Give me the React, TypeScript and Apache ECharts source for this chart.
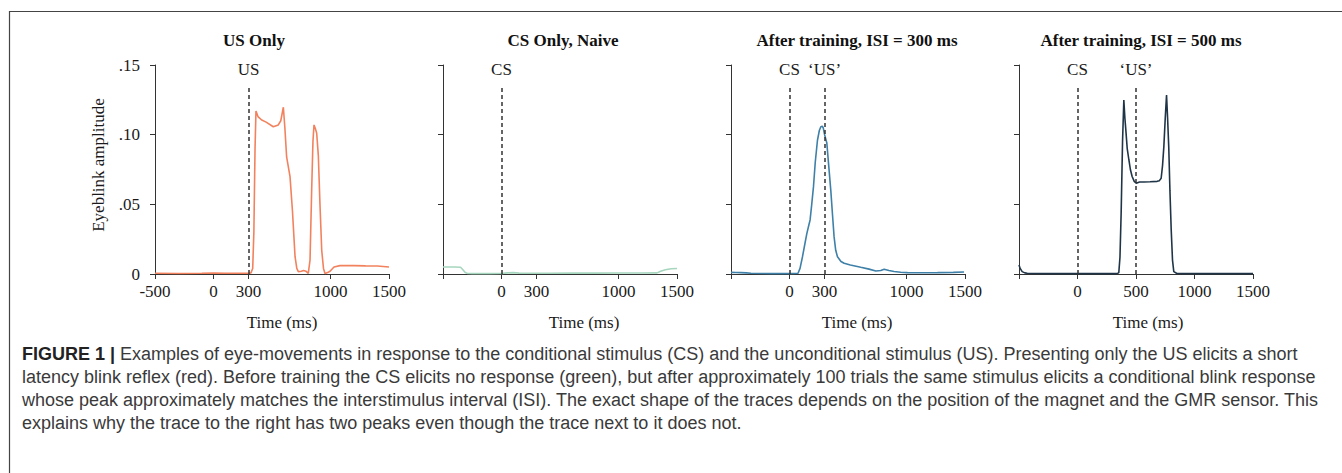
import React, { useEffect, useRef } from 'react';
import * as echarts from 'echarts';

// ---------- DATA ----------
const panelTitles = ['US Only', 'CS Only, Naive', 'After training, ISI = 300 ms', 'After training, ISI = 500 ms'];

const usOnlyTime = [-500, -300, -100, 0, 100, 200, 300, 320, 335, 345, 355, 363, 380, 412, 450, 511, 554, 575, 597, 610, 625, 654, 675, 697, 712, 725, 750, 770, 790, 810, 825, 839, 850, 859, 872, 882, 896, 910, 925, 940, 953, 975, 996, 1030, 1081, 1200, 1300, 1400, 1500];
const usOnlyAmp = [0.0005, 0.0004, 0.0005, 0.0006, 0.0005, 0.0005, 0.0005, 0.0008, 0.004, 0.03, 0.09, 0.117, 0.113, 0.1105, 0.109, 0.1057, 0.107, 0.11, 0.1197, 0.105, 0.084, 0.0699, 0.045, 0.0124, 0.004, 0.0017, 0.002, 0.0025, 0.002, 0.0005, 0.01, 0.06, 0.095, 0.107, 0.104, 0.101, 0.085, 0.05, 0.017, 0.004, 0.0003, 0.001, 0.002, 0.005, 0.006, 0.006, 0.0058, 0.0057, 0.005];

const csNaiveTime = [-500, -400, -350, -330, -310, -290, -250, -100, 0, 50, 100, 150, 200, 400, 600, 800, 1000, 1200, 1330, 1360, 1400, 1450, 1500];
const csNaiveAmp = [0.005, 0.005, 0.0048, 0.003, 0.001, 0.0004, 0.0003, 0.0003, 0.0004, 0.0008, 0.001, 0.0006, 0.0005, 0.0005, 0.0006, 0.0006, 0.0007, 0.0007, 0.0008, 0.002, 0.003, 0.0038, 0.004];

const isi300Time = [-500, -460, -416, -370, -330, -250, -150, -17, 40, 73, 90, 111, 130, 148, 165, 176, 190, 205, 220, 239, 255, 268, 280, 288, 300, 319, 335, 353, 368, 381, 395, 410, 440, 467, 520, 609, 680, 738, 780, 809, 850, 894, 950, 1009, 1100, 1265, 1400, 1492];
const isi300Amp = [0.0012, 0.0011, 0.001, 0.0008, 0.0005, 0.0004, 0.0003, 0.0003, 0.0004, 0.0005, 0.004, 0.0124, 0.021, 0.029, 0.035, 0.0388, 0.05, 0.0627, 0.08, 0.096, 0.103, 0.1057, 0.106, 0.105, 0.1, 0.094, 0.078, 0.06, 0.042, 0.0268, 0.017, 0.0124, 0.009, 0.0077, 0.0065, 0.0048, 0.0035, 0.0022, 0.0025, 0.0034, 0.0025, 0.0018, 0.0013, 0.001, 0.0009, 0.001, 0.0012, 0.0014];

const isi500Time = [-500, -490, -473, -450, -430, -300, 0, 200, 340, 353, 363, 373, 385, 396, 405, 413, 425, 439, 452, 467, 485, 502, 530, 567, 620, 681, 700, 715, 727, 738, 750, 761, 770, 780, 790, 801, 812, 823, 850, 1000, 1200, 1500];
const isi500Amp = [0.0065, 0.004, 0.0017, 0.0008, 0.0005, 0.0003, 0.0003, 0.0003, 0.0003, 0.001, 0.012, 0.0435, 0.095, 0.1249, 0.112, 0.1034, 0.09, 0.082, 0.075, 0.07, 0.0665, 0.0651, 0.066, 0.066, 0.0662, 0.0665, 0.067, 0.0687, 0.078, 0.0914, 0.112, 0.1285, 0.112, 0.091, 0.06, 0.0316, 0.01, 0.0017, 0.0004, 0.0003, 0.0003, 0.0003];

const panelTimes = [usOnlyTime, csNaiveTime, isi300Time, isi500Time];
const panelAmps = [usOnlyAmp, csNaiveAmp, isi300Amp, isi500Amp];
const panelColors = ['#F2825E', '#A6D6BE', '#3F80A8', '#1F3547'];

const yTickValues = [0, 0.05, 0.1, 0.15];
const yTickLabels = ['0', '.05', '.10', '.15'];
const xTickValues = [
  [-500, 0, 300, 1000, 1500],
  [-500, 0, 300, 1000, 1500],
  [-500, 0, 300, 1000, 1500],
  [-500, 0, 500, 1000, 1500],
];
const xLabelValues = [
  [-500, 0, 300, 1000, 1500],
  [0, 300, 1000, 1500],
  [0, 300, 1000, 1500],
  [0, 500, 1000, 1500],
];
const stimulusTimes = [[300], [0], [0, 300], [0, 500]];
const stimulusNames = [['US'], ['CS'], ['CS', '\u2018US\u2019'], ['CS', '\u2018US\u2019']];
const stimulusLineTop = 0.134;

const xAxisName = 'Time (ms)';
const yAxisName = 'Eyeblink amplitude';

const captionBold = 'FIGURE 1 |';
const captionLines = [
  ' Examples of eye-movements in response to the conditional stimulus (CS) and the unconditional stimulus (US). Presenting only the US elicits a short',
  'latency blink reflex (red). Before training the CS elicits no response (green), but after approximately 100 trials the same stimulus elicits a conditional blink response',
  'whose peak approximately matches the interstimulus interval (ISI). The exact shape of the traces depends on the position of the magnet and the GMR sensor. This',
  'explains why the trace to the right has two peaks even though the trace next to it does not.',
];

// ---------- LAYOUT ----------
const gridLefts = [155, 443, 731, 1019];
const gridWidth = 234;
const gridTop = 65;
const gridHeight = 209;
const titleCenters = [254, 563, 857, 1141];
const timeNameCenters = [282, 584, 857, 1148];

const SERIF = '"Liberation Serif", "Times New Roman", serif';
const SANS = '"Liberation Sans", Arial, sans-serif';
const AXIS_COLOR = '#333333';
const TEXT_COLOR = '#1a1a1a';

export default function App() {
  const ref = useRef<HTMLDivElement>(null);

  useEffect(() => {
    document.body.style.margin = '0';
    if (!ref.current) return;
    const chart = echarts.init(ref.current, undefined, { renderer: 'svg' });

    const grids = gridLefts.map((left) => ({ left, top: gridTop, width: gridWidth, height: gridHeight }));

    const xAxes = gridLefts.map((_, i) => ({
      type: 'value',
      gridIndex: i,
      min: -500,
      max: 1500,
      axisLine: { show: true, onZero: false, lineStyle: { color: AXIS_COLOR, width: 1 } },
      axisTick: { show: true, length: 5, customValues: xTickValues[i], lineStyle: { color: AXIS_COLOR, width: 1 } },
      axisLabel: {
        show: true,
        customValues: xLabelValues[i],
        fontFamily: SERIF,
        fontSize: 17,
        color: TEXT_COLOR,
        margin: 9,
        formatter: (v: number) => String(v),
      },
      splitLine: { show: false },
    }));

    const yAxes = gridLefts.map((_, i) => ({
      type: 'value',
      gridIndex: i,
      min: 0,
      max: 0.15,
      interval: 0.05,
      axisLine: { show: true, onZero: false, lineStyle: { color: AXIS_COLOR, width: 1 } },
      axisTick: { show: true, length: 5, lineStyle: { color: AXIS_COLOR, width: 1 } },
      axisLabel: {
        show: i === 0,
        fontFamily: SERIF,
        fontSize: 17,
        color: TEXT_COLOR,
        margin: 15,
        formatter: (v: number) => {
          const k = yTickValues.findIndex((t) => Math.abs(t - v) < 1e-9);
          return k >= 0 ? yTickLabels[k] : '';
        },
      },
      splitLine: { show: false },
    }));

    const series = gridLefts.map((_, i) => ({
      type: 'line',
      xAxisIndex: i,
      yAxisIndex: i,
      data: panelTimes[i].map((t, k) => [t, panelAmps[i][k]]),
      showSymbol: false,
      symbol: 'none',
      lineStyle: { color: panelColors[i], width: 1.6 },
      itemStyle: { color: panelColors[i] },
      silent: true,
      z: 3,
      markLine: {
        silent: true,
        symbol: 'none',
        lineStyle: { color: AXIS_COLOR, type: [4, 3], width: 1.5 },
        label: {
          show: true,
          position: 'end',
          formatter: '{b}',
          distance: 9,
          fontFamily: SERIF,
          fontSize: 17,
          color: TEXT_COLOR,
        },
        data: stimulusTimes[i].map((t, k) => [
          { name: stimulusNames[i][k], coord: [t, 0] },
          { coord: [t, stimulusLineTop] },
        ]),
      },
    }));

    const graphics: any[] = [];
    // frame
    graphics.push({ type: 'line', shape: { x1: 9, y1: 11.5, x2: 1342, y2: 11.5 }, style: { stroke: '#444', lineWidth: 1.2 }, silent: true });
    graphics.push({ type: 'line', shape: { x1: 9.5, y1: 11, x2: 9.5, y2: 473 }, style: { stroke: '#444', lineWidth: 1.2 }, silent: true });
    // titles
    panelTitles.forEach((t, i) => {
      graphics.push({
        type: 'text', x: titleCenters[i], y: 40, silent: true,
        style: { text: t, font: `bold 17px ${SERIF}`, fill: '#111', textAlign: 'center', textVerticalAlign: 'middle' },
      });
      graphics.push({
        type: 'text', x: timeNameCenters[i], y: 322, silent: true,
        style: { text: xAxisName, font: `17px ${SERIF}`, fill: TEXT_COLOR, textAlign: 'center', textVerticalAlign: 'middle' },
      });
    });
    // y axis name
    graphics.push({
      type: 'text', x: 98, y: 165, rotation: Math.PI / 2, silent: true,
      style: { text: yAxisName, font: `17px ${SERIF}`, fill: TEXT_COLOR, textAlign: 'center', textVerticalAlign: 'middle' },
    });
    // caption
    const capY0 = 354;
    const capStep = 23;
    const capSize = 18;
    graphics.push({
      type: 'text', x: 22, y: capY0, silent: true,
      style: {
        text: `{b|${captionBold}}{r|${captionLines[0]}}`,
        textVerticalAlign: 'middle',
        rich: {
          b: { font: `bold ${capSize}px ${SANS}`, fill: '#222' },
          r: { font: `${capSize}px ${SANS}`, fill: '#3a3a3a' },
        },
      },
    });
    for (let k = 1; k < captionLines.length; k++) {
      graphics.push({
        type: 'text', x: 22, y: capY0 + capStep * k, silent: true,
        style: { text: captionLines[k], font: `${capSize}px ${SANS}`, fill: '#3a3a3a', textVerticalAlign: 'middle' },
      });
    }

    chart.setOption({
      animation: false,
      backgroundColor: '#ffffff',
      grid: grids,
      xAxis: xAxes,
      yAxis: yAxes,
      series,
      graphic: graphics,
    });

    return () => chart.dispose();
  }, []);

  return <div ref={ref} style={{ width: 1342, height: 473 }} />;
}
